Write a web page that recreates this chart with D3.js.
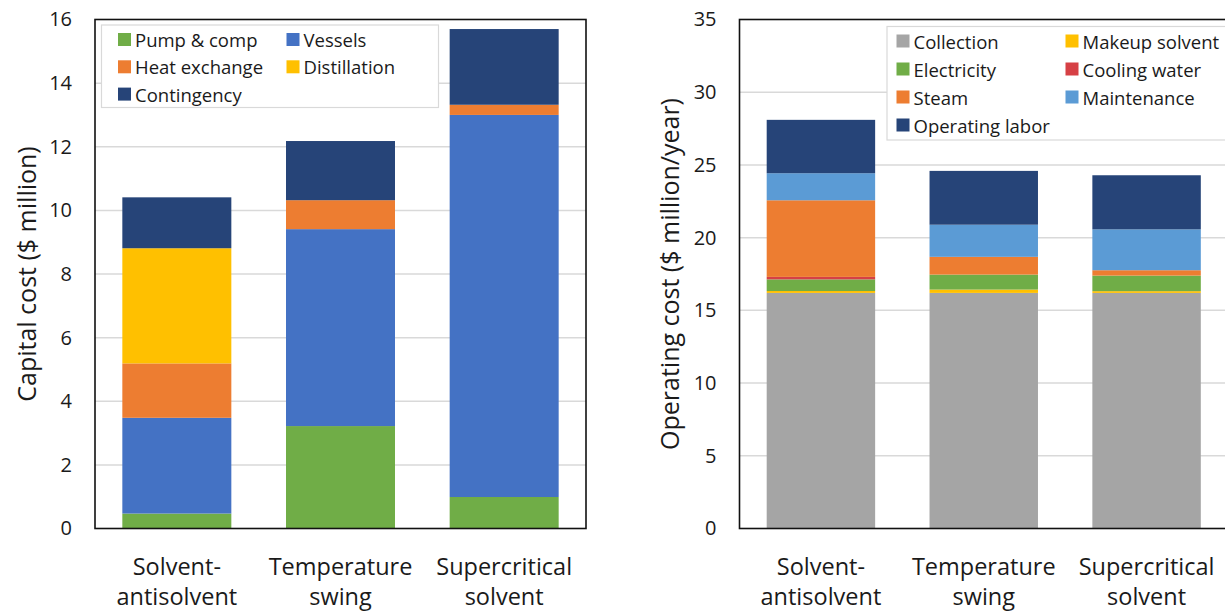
<!DOCTYPE html>
<html>
<head>
<meta charset="utf-8">
<script src="https://cdn.jsdelivr.net/npm/d3@7"></script>
<style>
  html, body { margin: 0; padding: 0; background: #fff; }
  svg { display: block; }
  text { font-family: "Open Sans", sans-serif; fill: #1a1a1a; }
</style>
</head>
<body>
<svg id="chart" width="1225" height="612"></svg>
<script>
// ---------- data ----------
const categories = ["Solvent-antisolvent", "Temperature swing", "Supercritical solvent"];
const categoryLines = [["Solvent-", "antisolvent"], ["Temperature", "swing"], ["Supercritical", "solvent"]];

// Capital cost ($ million)
const capitalSeriesNames = ["Pump & comp", "Vessels", "Heat exchange", "Distillation", "Contingency"];
const pumpComp     = [0.47, 3.22, 0.99];
const vessels      = [3.01, 6.19, 12.01];
const heatExchange = [1.71, 0.91, 0.32];
const distillation = [3.62, 0.00, 0.00];
const contingency  = [1.60, 1.86, 2.38];
const capitalTicks = [0, 2, 4, 6, 8, 10, 12, 14, 16];

// Operating cost ($ million/year)
const operatingSeriesNames = ["Collection", "Makeup solvent", "Electricity", "Cooling water", "Steam", "Maintenance", "Operating labor"];
const collection     = [16.20, 16.20, 16.20];
const makeupSolvent  = [0.13, 0.23, 0.12];
const electricity    = [0.80, 1.03, 1.07];
const coolingWater   = [0.17, 0.00, 0.00];
const steam          = [5.27, 1.22, 0.37];
const maintenance    = [1.86, 2.21, 2.81];
const operatingLabor = [3.67, 3.70, 3.72];
const operatingTicks = [0, 5, 10, 15, 20, 25, 30, 35];

// ---------- styles ----------
const capitalColors = ["#70AD47", "#4472C4", "#ED7D31", "#FFC000", "#264478"];
const operatingColors = ["#A5A5A5", "#FFC000", "#70AD47", "#D64045", "#ED7D31", "#5B9BD5", "#264478"];

const svg = d3.select("#chart");

function drawPanel(opts) {
  const { x0, x1, y0, y1, names, values, colors, ticks, yTitle, titleX, legend } = opts;
  const g = svg.append("g");

  const rows = categories.map((c, i) => {
    const r = { cat: c };
    names.forEach((n, k) => r[n] = values[k][i]);
    return r;
  });

  const x = d3.scaleBand().domain(categories).range([x0, x1]).paddingInner(0.334).paddingOuter(0.167);
  const y = d3.scaleLinear().domain([0, d3.max(ticks)]).range([y0, y1]);

  // gridlines
  g.append("g").selectAll("line").data(ticks.filter(t => t > 0 && t < d3.max(ticks))).join("line")
    .attr("x1", x0).attr("x2", x1)
    .attr("y1", d => y(d)).attr("y2", d => y(d))
    .attr("stroke", "#D9D9D9").attr("stroke-width", 1.5);

  // bars
  const stack = d3.stack().keys(names)(rows);
  g.append("g").selectAll("g").data(stack).join("g")
    .attr("fill", (d, i) => colors[i])
    .selectAll("rect").data(d => d).join("rect")
    .attr("x", d => x(d.data.cat))
    .attr("width", x.bandwidth())
    .attr("y", d => y(d[1]))
    .attr("height", d => Math.max(0, y(d[0]) - y(d[1])));

  // frame
  g.append("rect").attr("x", x0).attr("y", y1).attr("width", x1 - x0).attr("height", y0 - y1)
    .attr("fill", "none").attr("stroke", "#111").attr("stroke-width", 1.6);

  // y axis labels
  const yAxis = d3.axisLeft(y).tickValues(ticks).tickSize(0).tickPadding(23).tickFormat(d3.format("d"));
  const ya = g.append("g").attr("transform", `translate(${x0},0)`).call(yAxis);
  ya.select(".domain").remove();
  ya.selectAll("text").style("font-family", '"Open Sans", sans-serif').style("font-size", "20px").attr("fill", "#1a1a1a");

  // x axis labels (two lines)
  const xl = g.append("g").selectAll("text").data(categories).join("text")
    .attr("text-anchor", "middle")
    .attr("x", d => x(d) + x.bandwidth() / 2)
    .attr("y", 575)
    .style("font-size", "23.5px");
  xl.selectAll("tspan").data((d, i) => categoryLines[i]).join("tspan")
    .attr("x", function () { return d3.select(this.parentNode).attr("x"); })
    .attr("dy", (d, j) => j === 0 ? 0 : 30)
    .text(d => d);

  // y title
  g.append("text")
    .attr("transform", `translate(${titleX},${(y0 + y1) / 2}) rotate(-90)`)
    .attr("text-anchor", "middle").attr("dominant-baseline", "central")
    .style("font-size", "25px")
    .text(yTitle);

  // legend
  const lg = g.append("g");
  lg.append("rect").attr("x", legend.x).attr("y", legend.y).attr("width", legend.w).attr("height", legend.h)
    .attr("fill", "#fff").attr("stroke", "#D9D9D9").attr("stroke-width", 1.2);
  names.forEach((n, k) => {
    const col = k % 2, row = Math.floor(k / 2);
    const sx = legend.x + legend.sw[col];
    const cy = legend.y + legend.r0 + row * legend.rs;
    lg.append("rect").attr("x", sx).attr("y", cy - 6.5).attr("width", 13).attr("height", 13).attr("fill", colors[k]);
    lg.append("text").attr("x", sx + 17).attr("y", cy).attr("dominant-baseline", "central")
      .style("font-size", "18.5px").text(n);
  });
}

drawPanel({
  x0: 95, x1: 586, y0: 528.5, y1: 19.5,
  names: capitalSeriesNames,
  values: [pumpComp, vessels, heatExchange, distillation, contingency],
  colors: capitalColors, ticks: capitalTicks,
  yTitle: "Capital cost ($ million)", titleX: 26,
  legend: { x: 101.5, y: 25, w: 337, h: 82.5, sw: [16.5, 185], r0: 14.5, rs: 27.3 }
});

drawPanel({
  x0: 739.5, x1: 1228, y0: 528.5, y1: 19.5,
  names: operatingSeriesNames,
  values: [collection, makeupSolvent, electricity, coolingWater, steam, maintenance, operatingLabor],
  colors: operatingColors, ticks: operatingTicks,
  yTitle: "Operating cost ($ million/year)", titleX: 669,
  legend: { x: 887, y: 26.5, w: 345, h: 113.5, sw: [9.5, 178.5], r0: 14.5, rs: 28 }
});
</script>
</body>
</html>
